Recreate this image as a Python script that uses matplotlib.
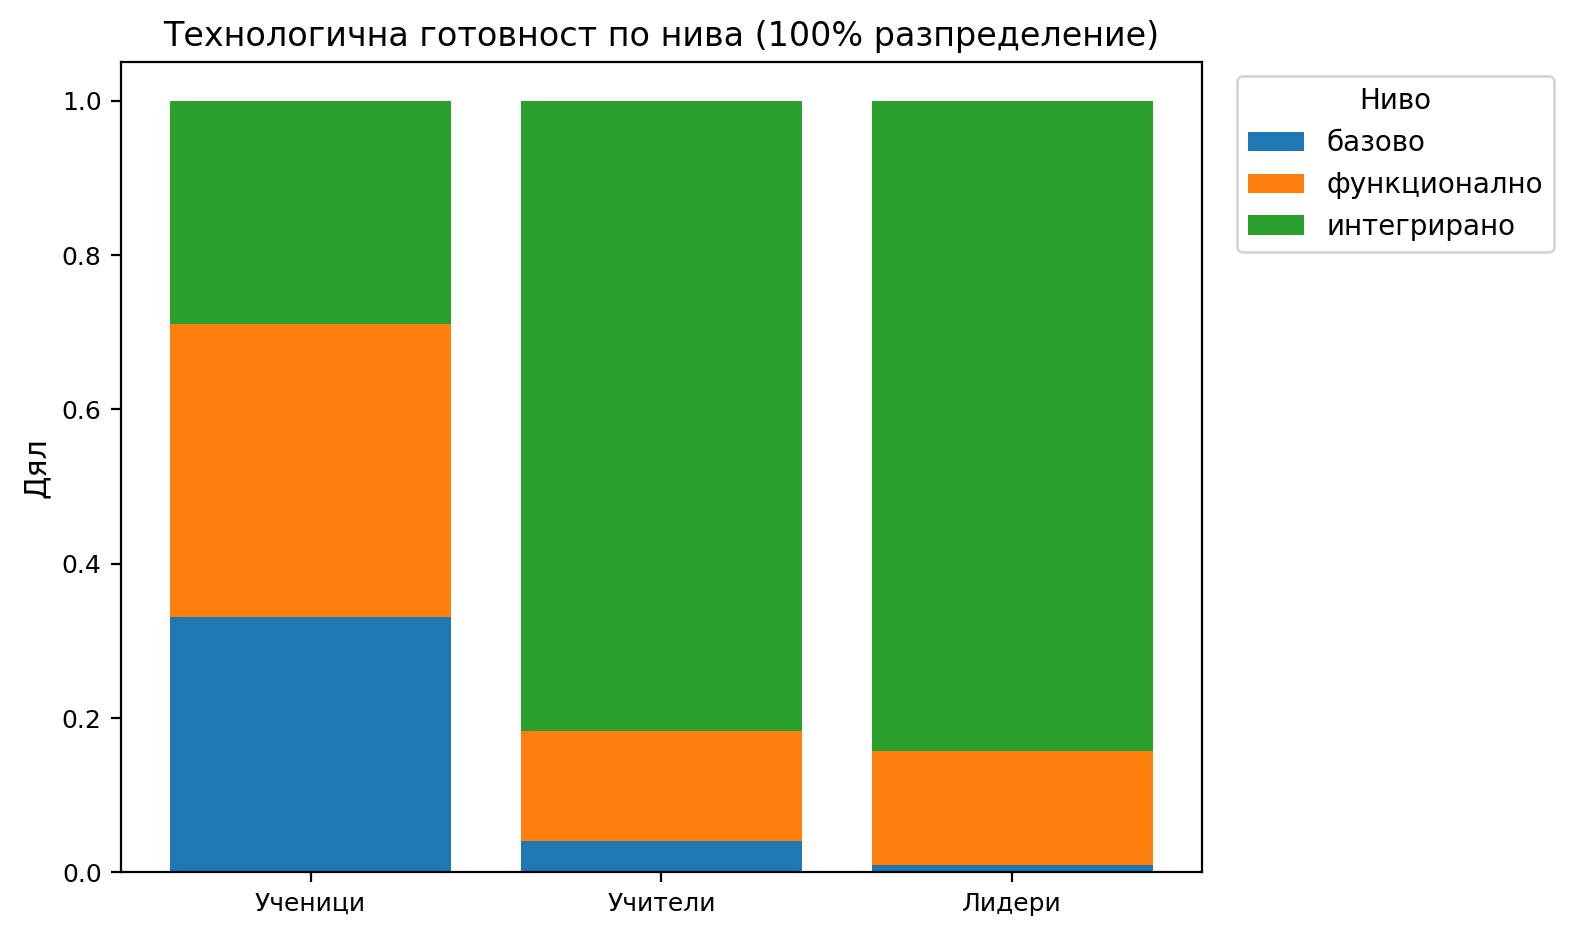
import matplotlib
matplotlib.use("Agg")
import matplotlib.pyplot as plt
import numpy as np

categories = ["Ученици", "Учители", "Лидери"]
levels = ["базово", "функционално", "интегрирано"]
bazovo = [0.331, 0.040, 0.009]
funkcionalno = [0.380, 0.143, 0.148]
integrirano = [0.289, 0.817, 0.843]
colors = ["#1f77b4", "#ff7f0e", "#2ca02c"]

fig = plt.figure(figsize=(7.865, 4.675), dpi=200)
ax = fig.add_axes([0.0770, 0.0670, 0.6870, 0.8665])

x = np.arange(len(categories))
bottom = np.zeros(len(categories))
for name, vals, c in zip(levels, [bazovo, funkcionalno, integrirano], colors):
    ax.bar(x, vals, 0.8, bottom=bottom, color=c, label=name)
    bottom += np.array(vals)

ax.set_xticks(x)
ax.set_xticklabels(categories)
ax.tick_params(labelsize=9)
ax.set_ylabel("Дял", fontsize=10.8)
ax.set_title("Технологична готовност по нива (100% разпределение)", fontsize=12)
ax.legend(title="Ниво", fontsize=10, title_fontsize=10,
          bbox_to_anchor=(1.02, 1), loc="upper left")

fig.savefig("out.png", dpi=200)
